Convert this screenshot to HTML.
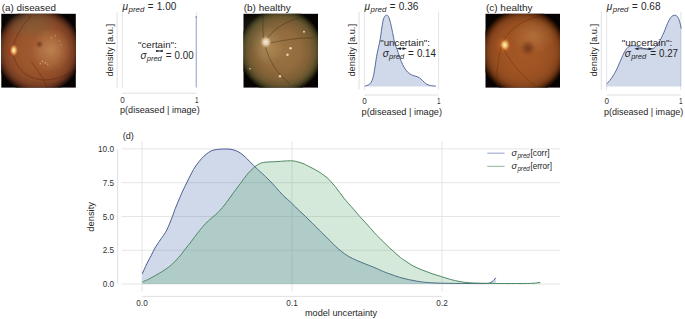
<!DOCTYPE html>
<html><head><meta charset="utf-8"><style>
html,body{margin:0;padding:0;background:#fff;}
svg{display:block;}
text{font-family:"Liberation Sans", sans-serif;}
</style></head><body>
<svg width="685" height="319" viewBox="0 0 685 319">
<text x="1.80" y="10.70" font-size="9.6" fill="#262626" textLength="54.18" lengthAdjust="spacingAndGlyphs">(a) diseased</text>
<rect x="1.3" y="13.8" width="74.5" height="73.8" fill="#060302"/>
<defs><radialGradient id="ga" cx="0" cy="0" r="43.2" gradientUnits="userSpaceOnUse" gradientTransform="translate(38.5 51.0) scale(1 1.0000)"><stop offset="0%" stop-color="#a25c34"/><stop offset="45%" stop-color="#9c562c"/><stop offset="68%" stop-color="#8e4b28"/><stop offset="80%" stop-color="#7a4024"/><stop offset="88%" stop-color="#5c2e1a"/><stop offset="94%" stop-color="#341810"/><stop offset="100%" stop-color="#0a0402"/></radialGradient><clipPath id="ca"><rect x="1.3" y="13.8" width="74.5" height="73.8"/></clipPath><radialGradient id="oda"><stop offset="0%" stop-color="#fff6c8"/><stop offset="35%" stop-color="#f8d27c" stop-opacity="0.95"/><stop offset="100%" stop-color="#e8a050" stop-opacity="0"/></radialGradient><radialGradient id="odba"><stop offset="0%" stop-color="#fbf0e0"/><stop offset="45%" stop-color="#e8d4b4" stop-opacity="0.9"/><stop offset="100%" stop-color="#c8a878" stop-opacity="0"/></radialGradient><radialGradient id="mca"><stop offset="0%" stop-color="#401404" stop-opacity="0.5"/><stop offset="100%" stop-color="#401404" stop-opacity="0"/></radialGradient><radialGradient id="lta"><stop offset="0%" stop-color="#ffe0a0" stop-opacity="0.3"/><stop offset="100%" stop-color="#ffe0a0" stop-opacity="0"/></radialGradient><radialGradient id="tna"><stop offset="0%" stop-color="#6a6c48" stop-opacity="0.35"/><stop offset="60%" stop-color="#6a6c48" stop-opacity="0.2"/><stop offset="100%" stop-color="#6a6c48" stop-opacity="0"/></radialGradient><filter id="bla" x="-20%" y="-20%" width="140%" height="140%"><feGaussianBlur stdDeviation="0.4"/></filter></defs>
<g clip-path="url(#ca)"><ellipse cx="38.5" cy="51.0" rx="43.2" ry="43.2" fill="url(#ga)"/>
<ellipse cx="31.3" cy="23.8" rx="28" ry="16" fill="url(#tna)"/>
<ellipse cx="51.3" cy="49.8" rx="20" ry="22" fill="url(#lta)"/>
<ellipse cx="11.8" cy="50.599999999999994" rx="3" ry="5" fill="#c02818" opacity="0.5" filter="url(#bla)"/>
<ellipse cx="13.8" cy="50.3" rx="4.2" ry="6" fill="url(#oda)"/>
<ellipse cx="39.5" cy="44.3" rx="4" ry="4" fill="url(#mca)"/>
<g filter="url(#bla)" stroke="#5a1a0a" stroke-width="0.7" fill="none" opacity="0.55"><path d="M13.3,44.8 C17.3,33.8 23.3,23.8 31.3,15.8"/><path d="M13.3,55.8 C17.3,68.8 25.3,77.8 41.3,79.8 C53.3,80.8 65.3,75.8 73.3,71.8"/><path d="M31.3,61.8 C37.3,69.8 43.3,77.8 47.3,87.8"/></g>
<circle cx="42.3" cy="61.3" r="0.9" fill="#e8c080" opacity="0.6" filter="url(#bla)"/>
<circle cx="45.3" cy="62.8" r="0.9" fill="#e8c080" opacity="0.6" filter="url(#bla)"/>
<circle cx="47.8" cy="64.3" r="0.8" fill="#e8c080" opacity="0.6" filter="url(#bla)"/>
<circle cx="40.3" cy="63.8" r="0.7" fill="#e8c080" opacity="0.6" filter="url(#bla)"/>
<circle cx="51.3" cy="37.8" r="0.7" fill="#e8c080" opacity="0.6" filter="url(#bla)"/>
<circle cx="55.3" cy="35.8" r="0.7" fill="#e8c080" opacity="0.6" filter="url(#bla)"/>
<circle cx="59.3" cy="40.8" r="0.6" fill="#e8c080" opacity="0.6" filter="url(#bla)"/>
<circle cx="61.3" cy="44.8" r="0.6" fill="#e8c080" opacity="0.6" filter="url(#bla)"/>
</g>
<path d="M122.4,12.2 V88.2 M196.6,12.2 V88.2" stroke="#e2e2e2" stroke-width="0.9"/>
<path d="M117.1,12.3 V87.5 M122.4,93.2 H196.6" stroke="#dcdcdc" stroke-width="0.9"/>
<path d="M196.25,16.5 V87.3" stroke="#a4b0d6" stroke-width="1.2"/>
<path d="M196.25,16.4 V17.6" stroke="#4e5a80" stroke-width="1.2"/>
<text x="120.20" y="102.50" font-size="9.0" fill="#333333" textLength="4.51" lengthAdjust="spacingAndGlyphs">0</text>
<text x="194.90" y="102.50" font-size="9.0" fill="#333333" textLength="3.61" lengthAdjust="spacingAndGlyphs">1</text>
<text x="120.00" y="113.20" font-size="9.3" fill="#262626" textLength="79.70" lengthAdjust="spacingAndGlyphs">p(diseased | image)</text>
<text transform="translate(112.60,76.60) rotate(-90)" font-size="9.4" fill="#262626" textLength="52.60" lengthAdjust="spacingAndGlyphs">density [a.u.]</text>
<text x="122.45" y="10.40" font-size="10" fill="#262626" font-style="italic" textLength="5.53" lengthAdjust="spacingAndGlyphs">μ</text>
<text x="128.60" y="12.20" font-size="7.6" fill="#262626" font-style="italic" textLength="15.68" lengthAdjust="spacingAndGlyphs">pred</text>
<text x="147.80" y="10.30" font-size="10" fill="#262626" textLength="5.69" lengthAdjust="spacingAndGlyphs">=</text>
<text x="156.80" y="10.40" font-size="10" fill="#262626" textLength="19.51" lengthAdjust="spacingAndGlyphs">1.00</text>
<text x="138.00" y="47.90" font-size="9.6" fill="#262626" textLength="38.69" lengthAdjust="spacingAndGlyphs">"certain":</text>
<text x="140.40" y="59.40" font-size="10" fill="#262626" font-style="italic" textLength="6.08" lengthAdjust="spacingAndGlyphs">σ</text>
<text x="146.79" y="61.20" font-size="7.6" fill="#262626" font-style="italic" textLength="15.00" lengthAdjust="spacingAndGlyphs">pred</text>
<text x="165.80" y="59.30" font-size="10" fill="#262626" textLength="5.79" lengthAdjust="spacingAndGlyphs">=</text>
<text x="174.60" y="59.40" font-size="10" fill="#262626" textLength="19.01" lengthAdjust="spacingAndGlyphs">0.00</text>
<path d="M156.00,49.90 L159.43,50.50 L162.85,49.90 L162.85,52.00 L159.43,51.40 L156.00,52.00 Z" fill="#1e2430"/>
<text x="243.70" y="10.70" font-size="9.6" fill="#262626" textLength="47.10" lengthAdjust="spacingAndGlyphs">(b) healthy</text>
<rect x="243.5" y="13.8" width="74.5" height="73.8" fill="#060302"/>
<defs><radialGradient id="gb" cx="0" cy="0" r="42.6" gradientUnits="userSpaceOnUse" gradientTransform="translate(281.0 51.0) scale(1 1.0000)"><stop offset="0%" stop-color="#9c7444"/><stop offset="45%" stop-color="#926c3e"/><stop offset="68%" stop-color="#806036"/><stop offset="80%" stop-color="#6a5630"/><stop offset="88%" stop-color="#4c4424"/><stop offset="94%" stop-color="#2a2612"/><stop offset="100%" stop-color="#060402"/></radialGradient><clipPath id="cb"><rect x="243.5" y="13.8" width="74.5" height="73.8"/></clipPath><radialGradient id="odb"><stop offset="0%" stop-color="#fff6c8"/><stop offset="35%" stop-color="#f8d27c" stop-opacity="0.95"/><stop offset="100%" stop-color="#e8a050" stop-opacity="0"/></radialGradient><radialGradient id="odbb"><stop offset="0%" stop-color="#fbf0e0"/><stop offset="45%" stop-color="#e8d4b4" stop-opacity="0.9"/><stop offset="100%" stop-color="#c8a878" stop-opacity="0"/></radialGradient><radialGradient id="mcb"><stop offset="0%" stop-color="#401404" stop-opacity="0.5"/><stop offset="100%" stop-color="#401404" stop-opacity="0"/></radialGradient><radialGradient id="ltb"><stop offset="0%" stop-color="#ffe0a0" stop-opacity="0.3"/><stop offset="100%" stop-color="#ffe0a0" stop-opacity="0"/></radialGradient><radialGradient id="tnb"><stop offset="0%" stop-color="#6a6c48" stop-opacity="0.35"/><stop offset="60%" stop-color="#6a6c48" stop-opacity="0.2"/><stop offset="100%" stop-color="#6a6c48" stop-opacity="0"/></radialGradient><filter id="blb" x="-20%" y="-20%" width="140%" height="140%"><feGaussianBlur stdDeviation="0.4"/></filter></defs>
<g clip-path="url(#cb)"><ellipse cx="281.0" cy="51.0" rx="42.6" ry="42.6" fill="url(#gb)"/>
<ellipse cx="257.5" cy="31.8" rx="22" ry="22" fill="url(#tnb)" opacity="0.7"/>
<ellipse cx="267.5" cy="45.8" rx="16" ry="20" fill="url(#ltb)" opacity="0.8"/>
<ellipse cx="264.0" cy="42.3" rx="3" ry="4" fill="#b04830" opacity="0.35" filter="url(#blb)"/>
<ellipse cx="265.8" cy="42.0" rx="6" ry="6.5" fill="url(#odbb)"/>
<g filter="url(#blb)" stroke="#3a2a10" stroke-width="0.7" fill="none" opacity="0.6"><path d="M263.5,37.8 C262.5,28.8 262.5,21.8 263.5,13.8"/><path d="M267.5,37.8 C275.5,27.8 285.5,21.8 299.5,17.8"/><path d="M265.5,46.8 C269.5,61.8 277.5,73.8 289.5,83.8"/><path d="M270.5,42.8 C281.5,40.8 295.5,37.8 313.5,37.8"/></g>
<circle cx="290.5" cy="48.3" r="1.3" fill="#f4e8cc" opacity="0.85" filter="url(#blb)"/>
<circle cx="287.5" cy="54.8" r="1.2" fill="#f4e8cc" opacity="0.85" filter="url(#blb)"/>
<circle cx="304.0" cy="31.8" r="1.0" fill="#f4e8cc" opacity="0.85" filter="url(#blb)"/>
<circle cx="280.0" cy="76.3" r="1.2" fill="#f4e8cc" opacity="0.85" filter="url(#blb)"/>
<circle cx="250.0" cy="68.8" r="0.8" fill="#f4e8cc" opacity="0.85" filter="url(#blb)"/>
</g>
<path d="M364.4,12.2 V90.0 M438.6,12.2 V90.0" stroke="#e2e2e2" stroke-width="0.9"/>
<path d="M359.1,11.8 V89.5 M364.4,95.0 H438.6" stroke="#dcdcdc" stroke-width="0.9"/>
<path d="M364.80,86.10 C365.15,86.00 366.08,85.83 366.90,85.50 C367.72,85.17 368.83,84.95 369.70,84.10 C370.57,83.25 371.42,82.05 372.10,80.40 C372.78,78.75 373.28,76.62 373.80,74.20 C374.32,71.78 374.73,68.88 375.20,65.90 C375.67,62.92 376.07,59.32 376.60,56.30 C377.13,53.28 377.78,50.72 378.40,47.80 C379.02,44.88 379.82,41.55 380.30,38.80 C380.78,36.05 380.97,33.60 381.30,31.30 C381.63,29.00 381.98,26.88 382.30,25.00 C382.62,23.12 382.85,21.35 383.20,20.00 C383.55,18.65 383.83,17.73 384.40,16.90 C384.97,16.07 385.90,15.00 386.60,15.00 C387.30,15.00 388.02,15.85 388.60,16.90 C389.18,17.95 389.65,19.73 390.10,21.30 C390.55,22.87 390.88,24.42 391.30,26.30 C391.72,28.18 392.18,30.52 392.60,32.60 C393.02,34.68 393.35,36.72 393.80,38.80 C394.25,40.88 394.73,43.32 395.30,45.10 C395.87,46.88 396.53,47.63 397.20,49.50 C397.87,51.37 398.60,54.25 399.30,56.30 C400.00,58.35 400.60,59.97 401.40,61.80 C402.20,63.63 403.07,65.58 404.10,67.30 C405.13,69.02 406.33,70.83 407.60,72.10 C408.87,73.37 410.32,74.20 411.70,74.90 C413.08,75.60 414.63,75.83 415.90,76.30 C417.17,76.77 418.15,76.95 419.30,77.70 C420.45,78.45 421.65,79.77 422.80,80.80 C423.95,81.83 424.95,83.12 426.20,83.90 C427.45,84.68 428.68,85.13 430.30,85.50 C431.92,85.87 434.97,86.00 435.90,86.10 L435.90,86.40 L364.80,86.40 Z" fill="rgba(76,114,176,0.27)" stroke="none"/>
<path d="M364.80,86.10 C365.15,86.00 366.08,85.83 366.90,85.50 C367.72,85.17 368.83,84.95 369.70,84.10 C370.57,83.25 371.42,82.05 372.10,80.40 C372.78,78.75 373.28,76.62 373.80,74.20 C374.32,71.78 374.73,68.88 375.20,65.90 C375.67,62.92 376.07,59.32 376.60,56.30 C377.13,53.28 377.78,50.72 378.40,47.80 C379.02,44.88 379.82,41.55 380.30,38.80 C380.78,36.05 380.97,33.60 381.30,31.30 C381.63,29.00 381.98,26.88 382.30,25.00 C382.62,23.12 382.85,21.35 383.20,20.00 C383.55,18.65 383.83,17.73 384.40,16.90 C384.97,16.07 385.90,15.00 386.60,15.00 C387.30,15.00 388.02,15.85 388.60,16.90 C389.18,17.95 389.65,19.73 390.10,21.30 C390.55,22.87 390.88,24.42 391.30,26.30 C391.72,28.18 392.18,30.52 392.60,32.60 C393.02,34.68 393.35,36.72 393.80,38.80 C394.25,40.88 394.73,43.32 395.30,45.10 C395.87,46.88 396.53,47.63 397.20,49.50 C397.87,51.37 398.60,54.25 399.30,56.30 C400.00,58.35 400.60,59.97 401.40,61.80 C402.20,63.63 403.07,65.58 404.10,67.30 C405.13,69.02 406.33,70.83 407.60,72.10 C408.87,73.37 410.32,74.20 411.70,74.90 C413.08,75.60 414.63,75.83 415.90,76.30 C417.17,76.77 418.15,76.95 419.30,77.70 C420.45,78.45 421.65,79.77 422.80,80.80 C423.95,81.83 424.95,83.12 426.20,83.90 C427.45,84.68 428.68,85.13 430.30,85.50 C431.92,85.87 434.97,86.00 435.90,86.10" fill="none" stroke="#4a5e90" stroke-width="0.9"/>
<text x="362.20" y="104.40" font-size="9.0" fill="#333333" textLength="4.51" lengthAdjust="spacingAndGlyphs">0</text>
<text x="436.90" y="104.40" font-size="9.0" fill="#333333" textLength="3.61" lengthAdjust="spacingAndGlyphs">1</text>
<text x="361.60" y="115.40" font-size="9.3" fill="#262626" textLength="80.39" lengthAdjust="spacingAndGlyphs">p(diseased | image)</text>
<text transform="translate(354.80,76.60) rotate(-90)" font-size="9.4" fill="#262626" textLength="52.60" lengthAdjust="spacingAndGlyphs">density [a.u.]</text>
<text x="364.45" y="10.40" font-size="10" fill="#262626" font-style="italic" textLength="5.53" lengthAdjust="spacingAndGlyphs">μ</text>
<text x="370.60" y="12.20" font-size="7.6" fill="#262626" font-style="italic" textLength="15.68" lengthAdjust="spacingAndGlyphs">pred</text>
<text x="389.80" y="10.30" font-size="10" fill="#262626" textLength="5.69" lengthAdjust="spacingAndGlyphs">=</text>
<text x="398.80" y="10.40" font-size="10" fill="#262626" textLength="19.51" lengthAdjust="spacingAndGlyphs">0.36</text>
<text x="380.20" y="45.80" font-size="9.6" fill="#262626" textLength="49.82" lengthAdjust="spacingAndGlyphs">"uncertain":</text>
<text x="382.70" y="57.00" font-size="10" fill="#262626" font-style="italic" textLength="6.08" lengthAdjust="spacingAndGlyphs">σ</text>
<text x="389.09" y="58.80" font-size="7.6" fill="#262626" font-style="italic" textLength="15.00" lengthAdjust="spacingAndGlyphs">pred</text>
<text x="408.10" y="56.90" font-size="10" fill="#262626" textLength="5.79" lengthAdjust="spacingAndGlyphs">=</text>
<text x="416.90" y="57.00" font-size="10" fill="#262626" textLength="19.01" lengthAdjust="spacingAndGlyphs">0.14</text>
<path d="M398.6,48.6 H404.8" stroke="#1e2430" stroke-width="0.8" opacity="0.8"/>
<path d="M396.60,48.6 L400.90,47.30 L400.90,49.90 Z M406.80,48.6 L402.50,47.30 L402.50,49.90 Z" fill="#1e2430"/>
<text x="485.90" y="10.70" font-size="9.6" fill="#262626" textLength="46.69" lengthAdjust="spacingAndGlyphs">(c) healthy</text>
<rect x="485.5" y="13.8" width="74.5" height="73.8" fill="#060302"/>
<defs><radialGradient id="gc" cx="0" cy="0" r="43.5" gradientUnits="userSpaceOnUse" gradientTransform="translate(523.5 51.8) scale(1 1.0000)"><stop offset="0%" stop-color="#a45828"/><stop offset="45%" stop-color="#a05424"/><stop offset="68%" stop-color="#964e20"/><stop offset="80%" stop-color="#84441c"/><stop offset="88%" stop-color="#643010"/><stop offset="94%" stop-color="#361806"/><stop offset="100%" stop-color="#080402"/></radialGradient><clipPath id="cc"><rect x="485.5" y="13.8" width="74.5" height="73.8"/></clipPath><radialGradient id="odc"><stop offset="0%" stop-color="#fff6c8"/><stop offset="35%" stop-color="#f8d27c" stop-opacity="0.95"/><stop offset="100%" stop-color="#e8a050" stop-opacity="0"/></radialGradient><radialGradient id="odbc"><stop offset="0%" stop-color="#fbf0e0"/><stop offset="45%" stop-color="#e8d4b4" stop-opacity="0.9"/><stop offset="100%" stop-color="#c8a878" stop-opacity="0"/></radialGradient><radialGradient id="mcc"><stop offset="0%" stop-color="#401404" stop-opacity="0.5"/><stop offset="100%" stop-color="#401404" stop-opacity="0"/></radialGradient><radialGradient id="ltc"><stop offset="0%" stop-color="#ffe0a0" stop-opacity="0.3"/><stop offset="100%" stop-color="#ffe0a0" stop-opacity="0"/></radialGradient><radialGradient id="tnc"><stop offset="0%" stop-color="#6a6c48" stop-opacity="0.35"/><stop offset="60%" stop-color="#6a6c48" stop-opacity="0.2"/><stop offset="100%" stop-color="#6a6c48" stop-opacity="0"/></radialGradient><filter id="blc" x="-20%" y="-20%" width="140%" height="140%"><feGaussianBlur stdDeviation="0.4"/></filter></defs>
<g clip-path="url(#cc)"><ellipse cx="523.5" cy="51.8" rx="43.5" ry="43.5" fill="url(#gc)"/>
<ellipse cx="533.5" cy="35.8" rx="22" ry="18" fill="url(#ltc)" opacity="0.6"/>
<ellipse cx="503.5" cy="45.3" rx="7" ry="8" fill="#d06020" opacity="0.25" filter="url(#blc)"/>
<ellipse cx="504.8" cy="45.0" rx="5.2" ry="6.3" fill="url(#odc)"/>
<ellipse cx="528.0" cy="48.0" rx="8" ry="8" fill="url(#mcc)"/>
<g filter="url(#blc)" stroke="#5a2206" stroke-width="0.65" fill="none" opacity="0.5"><path d="M503.5,40.8 C509.5,29.8 521.5,19.8 541.5,15.8"/><path d="M503.5,48.8 C511.5,63.8 521.5,75.8 535.5,85.8"/><path d="M501.5,46.8 C497.5,61.8 495.5,73.8 497.5,85.8"/></g>
</g>
<path d="M606.6,12.2 V90.0 M680.8,12.2 V90.0" stroke="#e2e2e2" stroke-width="0.9"/>
<path d="M601.3,11.8 V89.5 M606.6,95.0 H680.8" stroke="#dcdcdc" stroke-width="0.9"/>
<path d="M606.60,83.70 C607.13,83.17 608.73,81.80 609.80,80.50 C610.87,79.20 611.92,77.62 613.00,75.90 C614.08,74.18 615.20,72.38 616.30,70.20 C617.40,68.02 618.52,65.25 619.60,62.80 C620.68,60.35 621.85,57.53 622.80,55.50 C623.75,53.47 624.30,52.08 625.30,50.60 C626.30,49.12 627.60,47.43 628.80,46.60 C630.00,45.77 631.22,45.70 632.50,45.60 C633.78,45.50 635.13,45.70 636.50,46.00 C637.87,46.30 639.07,46.87 640.70,47.40 C642.33,47.93 644.53,48.90 646.30,49.20 C648.07,49.50 649.93,49.47 651.30,49.20 C652.67,48.93 653.30,48.58 654.50,47.60 C655.70,46.62 657.40,44.85 658.50,43.30 C659.60,41.75 660.23,40.02 661.10,38.30 C661.97,36.58 662.83,34.98 663.70,33.00 C664.57,31.02 665.43,28.48 666.30,26.40 C667.17,24.32 668.02,22.13 668.90,20.50 C669.78,18.87 670.67,17.48 671.60,16.60 C672.53,15.72 673.52,15.20 674.50,15.20 C675.48,15.20 676.67,15.60 677.50,16.60 C678.33,17.60 678.87,19.22 679.50,21.20 C680.13,23.18 681.00,27.28 681.30,28.50 L681.30,86.40 L606.60,86.40 Z" fill="rgba(76,114,176,0.27)" stroke="none"/>
<path d="M606.60,83.70 C607.13,83.17 608.73,81.80 609.80,80.50 C610.87,79.20 611.92,77.62 613.00,75.90 C614.08,74.18 615.20,72.38 616.30,70.20 C617.40,68.02 618.52,65.25 619.60,62.80 C620.68,60.35 621.85,57.53 622.80,55.50 C623.75,53.47 624.30,52.08 625.30,50.60 C626.30,49.12 627.60,47.43 628.80,46.60 C630.00,45.77 631.22,45.70 632.50,45.60 C633.78,45.50 635.13,45.70 636.50,46.00 C637.87,46.30 639.07,46.87 640.70,47.40 C642.33,47.93 644.53,48.90 646.30,49.20 C648.07,49.50 649.93,49.47 651.30,49.20 C652.67,48.93 653.30,48.58 654.50,47.60 C655.70,46.62 657.40,44.85 658.50,43.30 C659.60,41.75 660.23,40.02 661.10,38.30 C661.97,36.58 662.83,34.98 663.70,33.00 C664.57,31.02 665.43,28.48 666.30,26.40 C667.17,24.32 668.02,22.13 668.90,20.50 C669.78,18.87 670.67,17.48 671.60,16.60 C672.53,15.72 673.52,15.20 674.50,15.20 C675.48,15.20 676.67,15.60 677.50,16.60 C678.33,17.60 678.87,19.22 679.50,21.20 C680.13,23.18 681.00,27.28 681.30,28.50" fill="none" stroke="#4a5e90" stroke-width="0.9"/>
<text x="604.40" y="104.40" font-size="9.0" fill="#333333" textLength="4.51" lengthAdjust="spacingAndGlyphs">0</text>
<text x="679.10" y="104.40" font-size="9.0" fill="#333333" textLength="3.61" lengthAdjust="spacingAndGlyphs">1</text>
<text x="603.90" y="115.40" font-size="9.3" fill="#262626" textLength="79.40" lengthAdjust="spacingAndGlyphs">p(diseased | image)</text>
<text transform="translate(596.80,76.60) rotate(-90)" font-size="9.4" fill="#262626" textLength="52.60" lengthAdjust="spacingAndGlyphs">density [a.u.]</text>
<text x="606.65" y="10.40" font-size="10" fill="#262626" font-style="italic" textLength="5.53" lengthAdjust="spacingAndGlyphs">μ</text>
<text x="612.80" y="12.20" font-size="7.6" fill="#262626" font-style="italic" textLength="15.68" lengthAdjust="spacingAndGlyphs">pred</text>
<text x="632.00" y="10.30" font-size="10" fill="#262626" textLength="5.69" lengthAdjust="spacingAndGlyphs">=</text>
<text x="641.00" y="10.40" font-size="10" fill="#262626" textLength="19.51" lengthAdjust="spacingAndGlyphs">0.68</text>
<text x="621.70" y="45.80" font-size="9.6" fill="#262626" textLength="50.52" lengthAdjust="spacingAndGlyphs">"uncertain":</text>
<text x="624.80" y="57.00" font-size="10" fill="#262626" font-style="italic" textLength="6.08" lengthAdjust="spacingAndGlyphs">σ</text>
<text x="631.19" y="58.80" font-size="7.6" fill="#262626" font-style="italic" textLength="15.00" lengthAdjust="spacingAndGlyphs">pred</text>
<text x="650.20" y="56.90" font-size="10" fill="#262626" textLength="5.79" lengthAdjust="spacingAndGlyphs">=</text>
<text x="659.00" y="57.00" font-size="10" fill="#262626" textLength="19.01" lengthAdjust="spacingAndGlyphs">0.27</text>
<path d="M636.2,48.8 H650.8" stroke="#1e2430" stroke-width="0.8" opacity="0.8"/>
<path d="M634.20,48.8 L638.50,47.50 L638.50,50.10 Z M652.80,48.8 L648.50,47.50 L648.50,50.10 Z" fill="#1e2430"/>
<text x="122.70" y="139.20" font-size="9.8" fill="#262626" textLength="11.12" lengthAdjust="spacingAndGlyphs">(d)</text>
<path d="M121.5,284.0 H560.0 M121.5,250.25 H560.0 M121.5,216.5 H560.0 M121.5,182.7 H560.0 M121.5,148.9 H560.0 M142,141.6 V291.5 M292,141.6 V291.5 M442,141.6 V291.5" stroke="#e2e2e2" stroke-width="0.9"/>
<path d="M117.6,148.9 V284 M142,296.4 H442" stroke="#dcdcdc" stroke-width="0.9"/>
<text x="102.80" y="287.00" font-size="8.4" fill="#333333" textLength="11.30" lengthAdjust="spacingAndGlyphs">0.0</text>
<text x="102.80" y="253.25" font-size="8.4" fill="#333333" textLength="11.30" lengthAdjust="spacingAndGlyphs">2.5</text>
<text x="102.80" y="219.50" font-size="8.4" fill="#333333" textLength="11.30" lengthAdjust="spacingAndGlyphs">5.0</text>
<text x="102.80" y="185.70" font-size="8.4" fill="#333333" textLength="11.30" lengthAdjust="spacingAndGlyphs">7.5</text>
<text x="98.00" y="151.90" font-size="8.4" fill="#333333" textLength="16.11" lengthAdjust="spacingAndGlyphs">10.0</text>
<text x="136.30" y="305.60" font-size="8.4" fill="#333333" textLength="11.40" lengthAdjust="spacingAndGlyphs">0.0</text>
<text x="286.30" y="305.60" font-size="8.4" fill="#333333" textLength="11.40" lengthAdjust="spacingAndGlyphs">0.1</text>
<text x="436.30" y="305.60" font-size="8.4" fill="#333333" textLength="11.40" lengthAdjust="spacingAndGlyphs">0.2</text>
<text x="305.00" y="316.20" font-size="9.2" fill="#262626" textLength="72.18" lengthAdjust="spacingAndGlyphs">model uncertainty</text>
<text transform="translate(93.60,231.70) rotate(-90)" font-size="9.4" fill="#262626" textLength="29.69" lengthAdjust="spacingAndGlyphs">density</text>
<path d="M142.30,273.80 C143.05,272.13 145.32,266.85 146.80,263.80 C148.28,260.75 149.73,258.32 151.20,255.50 C152.67,252.68 153.92,249.73 155.60,246.90 C157.28,244.07 159.42,241.35 161.30,238.50 C163.18,235.65 165.05,233.45 166.90,229.80 C168.75,226.15 171.00,220.15 172.40,216.60 C173.80,213.05 174.23,211.27 175.30,208.50 C176.37,205.73 177.48,203.08 178.80,200.00 C180.12,196.92 181.23,194.17 183.20,190.00 C185.17,185.83 188.73,178.67 190.60,175.00 C192.47,171.33 192.98,170.25 194.40,168.00 C195.82,165.75 197.53,163.45 199.10,161.50 C200.67,159.55 202.23,157.80 203.80,156.30 C205.37,154.80 206.93,153.52 208.50,152.50 C210.07,151.48 211.33,150.75 213.20,150.20 C215.07,149.65 217.67,149.40 219.70,149.20 C221.73,149.00 223.52,148.98 225.40,149.00 C227.28,149.02 229.12,148.97 231.00,149.30 C232.88,149.63 235.05,150.32 236.70,151.00 C238.35,151.68 239.50,152.42 240.90,153.40 C242.30,154.38 243.68,155.60 245.10,156.90 C246.52,158.20 247.98,159.78 249.40,161.20 C250.82,162.62 252.20,164.00 253.60,165.40 C255.00,166.80 256.38,168.27 257.80,169.60 C259.22,170.93 260.22,171.65 262.10,173.40 C263.98,175.15 266.75,177.72 269.10,180.10 C271.45,182.48 273.85,185.13 276.20,187.70 C278.55,190.27 280.68,192.98 283.20,195.50 C285.72,198.02 288.78,200.42 291.30,202.80 C293.82,205.18 295.95,207.53 298.30,209.80 C300.65,212.07 303.05,214.17 305.40,216.40 C307.75,218.63 310.05,220.88 312.40,223.20 C314.75,225.52 317.53,228.33 319.50,230.30 C321.47,232.27 322.47,233.28 324.20,235.00 C325.93,236.72 328.02,238.72 329.90,240.60 C331.78,242.48 333.62,244.53 335.50,246.30 C337.38,248.07 339.08,249.55 341.20,251.20 C343.32,252.85 345.62,254.67 348.20,256.20 C350.78,257.73 353.88,259.12 356.70,260.40 C359.52,261.68 362.28,262.77 365.10,263.90 C367.92,265.03 370.53,265.92 373.60,267.20 C376.67,268.48 380.77,270.47 383.50,271.60 C386.23,272.73 387.37,273.07 390.00,274.00 C392.63,274.93 396.18,276.27 399.30,277.20 C402.42,278.13 405.58,278.90 408.70,279.60 C411.82,280.30 414.88,280.92 418.00,281.40 C421.12,281.88 423.50,282.20 427.40,282.50 C431.30,282.80 436.73,283.05 441.40,283.20 C446.07,283.35 450.63,283.35 455.40,283.40 C460.17,283.45 464.90,283.48 470.00,283.50 C475.10,283.52 482.58,283.65 486.00,283.50 C489.42,283.35 489.25,283.10 490.50,282.60 C491.75,282.10 492.62,281.30 493.50,280.50 C494.38,279.70 495.42,278.25 495.80,277.80 L495.80,284.00 L142.30,284.00 Z" fill="rgba(76,114,176,0.27)"/>
<path d="M142.30,273.80 C143.05,272.13 145.32,266.85 146.80,263.80 C148.28,260.75 149.73,258.32 151.20,255.50 C152.67,252.68 153.92,249.73 155.60,246.90 C157.28,244.07 159.42,241.35 161.30,238.50 C163.18,235.65 165.05,233.45 166.90,229.80 C168.75,226.15 171.00,220.15 172.40,216.60 C173.80,213.05 174.23,211.27 175.30,208.50 C176.37,205.73 177.48,203.08 178.80,200.00 C180.12,196.92 181.23,194.17 183.20,190.00 C185.17,185.83 188.73,178.67 190.60,175.00 C192.47,171.33 192.98,170.25 194.40,168.00 C195.82,165.75 197.53,163.45 199.10,161.50 C200.67,159.55 202.23,157.80 203.80,156.30 C205.37,154.80 206.93,153.52 208.50,152.50 C210.07,151.48 211.33,150.75 213.20,150.20 C215.07,149.65 217.67,149.40 219.70,149.20 C221.73,149.00 223.52,148.98 225.40,149.00 C227.28,149.02 229.12,148.97 231.00,149.30 C232.88,149.63 235.05,150.32 236.70,151.00 C238.35,151.68 239.50,152.42 240.90,153.40 C242.30,154.38 243.68,155.60 245.10,156.90 C246.52,158.20 247.98,159.78 249.40,161.20 C250.82,162.62 252.20,164.00 253.60,165.40 C255.00,166.80 256.38,168.27 257.80,169.60 C259.22,170.93 260.22,171.65 262.10,173.40 C263.98,175.15 266.75,177.72 269.10,180.10 C271.45,182.48 273.85,185.13 276.20,187.70 C278.55,190.27 280.68,192.98 283.20,195.50 C285.72,198.02 288.78,200.42 291.30,202.80 C293.82,205.18 295.95,207.53 298.30,209.80 C300.65,212.07 303.05,214.17 305.40,216.40 C307.75,218.63 310.05,220.88 312.40,223.20 C314.75,225.52 317.53,228.33 319.50,230.30 C321.47,232.27 322.47,233.28 324.20,235.00 C325.93,236.72 328.02,238.72 329.90,240.60 C331.78,242.48 333.62,244.53 335.50,246.30 C337.38,248.07 339.08,249.55 341.20,251.20 C343.32,252.85 345.62,254.67 348.20,256.20 C350.78,257.73 353.88,259.12 356.70,260.40 C359.52,261.68 362.28,262.77 365.10,263.90 C367.92,265.03 370.53,265.92 373.60,267.20 C376.67,268.48 380.77,270.47 383.50,271.60 C386.23,272.73 387.37,273.07 390.00,274.00 C392.63,274.93 396.18,276.27 399.30,277.20 C402.42,278.13 405.58,278.90 408.70,279.60 C411.82,280.30 414.88,280.92 418.00,281.40 C421.12,281.88 423.50,282.20 427.40,282.50 C431.30,282.80 436.73,283.05 441.40,283.20 C446.07,283.35 450.63,283.35 455.40,283.40 C460.17,283.45 464.90,283.48 470.00,283.50 C475.10,283.52 482.58,283.65 486.00,283.50 C489.42,283.35 489.25,283.10 490.50,282.60 C491.75,282.10 492.62,281.30 493.50,280.50 C494.38,279.70 495.42,278.25 495.80,277.80" fill="none" stroke="#4a5e90" stroke-width="1.0"/>
<path d="M142.40,281.90 C143.50,281.42 146.80,280.10 149.00,279.00 C151.20,277.90 153.40,276.55 155.60,275.30 C157.80,274.05 159.85,272.98 162.20,271.50 C164.55,270.02 167.50,268.15 169.70,266.40 C171.90,264.65 173.52,262.95 175.40,261.00 C177.28,259.05 179.35,256.70 181.00,254.70 C182.65,252.70 183.65,251.12 185.30,249.00 C186.95,246.88 189.27,244.12 190.90,242.00 C192.53,239.88 193.68,238.18 195.10,236.30 C196.52,234.42 197.73,232.75 199.40,230.70 C201.07,228.65 202.98,226.18 205.10,224.00 C207.22,221.82 209.75,219.72 212.10,217.60 C214.45,215.48 216.85,213.77 219.20,211.30 C221.55,208.83 223.85,205.87 226.20,202.80 C228.55,199.73 230.93,196.12 233.30,192.90 C235.67,189.68 238.05,186.63 240.40,183.50 C242.75,180.37 245.05,176.83 247.40,174.10 C249.75,171.37 252.30,168.92 254.50,167.10 C256.70,165.28 258.63,164.03 260.60,163.20 C262.57,162.37 264.18,162.33 266.30,162.10 C268.42,161.87 270.95,161.93 273.30,161.80 C275.65,161.67 278.05,161.45 280.40,161.30 C282.75,161.15 285.28,160.97 287.40,160.90 C289.52,160.83 291.45,160.75 293.10,160.90 C294.75,161.05 295.65,161.37 297.30,161.80 C298.95,162.23 301.12,162.75 303.00,163.50 C304.88,164.25 306.50,165.23 308.60,166.30 C310.70,167.37 313.48,168.72 315.60,169.90 C317.72,171.08 319.42,172.12 321.30,173.40 C323.18,174.68 325.25,176.18 326.90,177.60 C328.55,179.02 329.78,180.37 331.20,181.90 C332.62,183.43 334.00,185.05 335.40,186.80 C336.80,188.55 338.18,190.52 339.60,192.40 C341.02,194.28 342.40,196.23 343.90,198.10 C345.40,199.97 346.90,201.65 348.60,203.60 C350.30,205.55 352.25,207.67 354.10,209.80 C355.95,211.93 357.82,214.28 359.70,216.40 C361.58,218.52 363.52,220.42 365.40,222.50 C367.28,224.58 369.12,226.78 371.00,228.90 C372.88,231.02 375.10,233.52 376.70,235.20 C378.30,236.88 379.00,237.40 380.60,239.00 C382.20,240.60 384.18,242.77 386.30,244.80 C388.42,246.83 390.95,249.08 393.30,251.20 C395.65,253.32 398.42,255.90 400.40,257.50 C402.38,259.10 403.03,259.37 405.20,260.80 C407.37,262.23 410.48,264.53 413.40,266.10 C416.32,267.67 419.60,268.93 422.70,270.20 C425.80,271.47 428.88,272.63 432.00,273.70 C435.12,274.77 438.28,275.63 441.40,276.60 C444.52,277.57 447.58,278.67 450.70,279.50 C453.82,280.33 456.88,281.05 460.10,281.60 C463.32,282.15 465.85,282.52 470.00,282.80 C474.15,283.08 480.00,283.18 485.00,283.30 C490.00,283.42 494.17,283.47 500.00,283.50 C505.83,283.53 514.50,283.53 520.00,283.50 C525.50,283.47 529.62,283.50 533.00,283.30 C536.38,283.10 539.08,282.47 540.30,282.30 L540.30,284.00 L142.40,284.00 Z" fill="rgba(85,168,104,0.25)"/>
<path d="M142.40,281.90 C143.50,281.42 146.80,280.10 149.00,279.00 C151.20,277.90 153.40,276.55 155.60,275.30 C157.80,274.05 159.85,272.98 162.20,271.50 C164.55,270.02 167.50,268.15 169.70,266.40 C171.90,264.65 173.52,262.95 175.40,261.00 C177.28,259.05 179.35,256.70 181.00,254.70 C182.65,252.70 183.65,251.12 185.30,249.00 C186.95,246.88 189.27,244.12 190.90,242.00 C192.53,239.88 193.68,238.18 195.10,236.30 C196.52,234.42 197.73,232.75 199.40,230.70 C201.07,228.65 202.98,226.18 205.10,224.00 C207.22,221.82 209.75,219.72 212.10,217.60 C214.45,215.48 216.85,213.77 219.20,211.30 C221.55,208.83 223.85,205.87 226.20,202.80 C228.55,199.73 230.93,196.12 233.30,192.90 C235.67,189.68 238.05,186.63 240.40,183.50 C242.75,180.37 245.05,176.83 247.40,174.10 C249.75,171.37 252.30,168.92 254.50,167.10 C256.70,165.28 258.63,164.03 260.60,163.20 C262.57,162.37 264.18,162.33 266.30,162.10 C268.42,161.87 270.95,161.93 273.30,161.80 C275.65,161.67 278.05,161.45 280.40,161.30 C282.75,161.15 285.28,160.97 287.40,160.90 C289.52,160.83 291.45,160.75 293.10,160.90 C294.75,161.05 295.65,161.37 297.30,161.80 C298.95,162.23 301.12,162.75 303.00,163.50 C304.88,164.25 306.50,165.23 308.60,166.30 C310.70,167.37 313.48,168.72 315.60,169.90 C317.72,171.08 319.42,172.12 321.30,173.40 C323.18,174.68 325.25,176.18 326.90,177.60 C328.55,179.02 329.78,180.37 331.20,181.90 C332.62,183.43 334.00,185.05 335.40,186.80 C336.80,188.55 338.18,190.52 339.60,192.40 C341.02,194.28 342.40,196.23 343.90,198.10 C345.40,199.97 346.90,201.65 348.60,203.60 C350.30,205.55 352.25,207.67 354.10,209.80 C355.95,211.93 357.82,214.28 359.70,216.40 C361.58,218.52 363.52,220.42 365.40,222.50 C367.28,224.58 369.12,226.78 371.00,228.90 C372.88,231.02 375.10,233.52 376.70,235.20 C378.30,236.88 379.00,237.40 380.60,239.00 C382.20,240.60 384.18,242.77 386.30,244.80 C388.42,246.83 390.95,249.08 393.30,251.20 C395.65,253.32 398.42,255.90 400.40,257.50 C402.38,259.10 403.03,259.37 405.20,260.80 C407.37,262.23 410.48,264.53 413.40,266.10 C416.32,267.67 419.60,268.93 422.70,270.20 C425.80,271.47 428.88,272.63 432.00,273.70 C435.12,274.77 438.28,275.63 441.40,276.60 C444.52,277.57 447.58,278.67 450.70,279.50 C453.82,280.33 456.88,281.05 460.10,281.60 C463.32,282.15 465.85,282.52 470.00,282.80 C474.15,283.08 480.00,283.18 485.00,283.30 C490.00,283.42 494.17,283.47 500.00,283.50 C505.83,283.53 514.50,283.53 520.00,283.50 C525.50,283.47 529.62,283.50 533.00,283.30 C536.38,283.10 539.08,282.47 540.30,282.30" fill="none" stroke="#4e8a62" stroke-width="1.0"/>
<path d="M487.2,153.2 H504.6" stroke="#9ea8d0" stroke-width="1.1"/>
<path d="M487.2,166.3 H504.6" stroke="#98bca2" stroke-width="1.1"/>
<text x="511.40" y="156.00" font-size="8.6" fill="#262626" font-style="italic" textLength="5.51" lengthAdjust="spacingAndGlyphs">σ</text>
<text x="517.45" y="157.50" font-size="6.3" fill="#262626" font-style="italic" textLength="12.37" lengthAdjust="spacingAndGlyphs">pred</text>
<text x="530.40" y="156.00" font-size="8.4" fill="#262626" textLength="19.18" lengthAdjust="spacingAndGlyphs">[corr]</text>
<text x="511.40" y="169.20" font-size="8.6" fill="#262626" font-style="italic" textLength="5.51" lengthAdjust="spacingAndGlyphs">σ</text>
<text x="517.45" y="170.70" font-size="6.3" fill="#262626" font-style="italic" textLength="12.37" lengthAdjust="spacingAndGlyphs">pred</text>
<text x="530.40" y="169.20" font-size="8.4" fill="#262626" textLength="21.62" lengthAdjust="spacingAndGlyphs">[error]</text>
</svg>
</body></html>
